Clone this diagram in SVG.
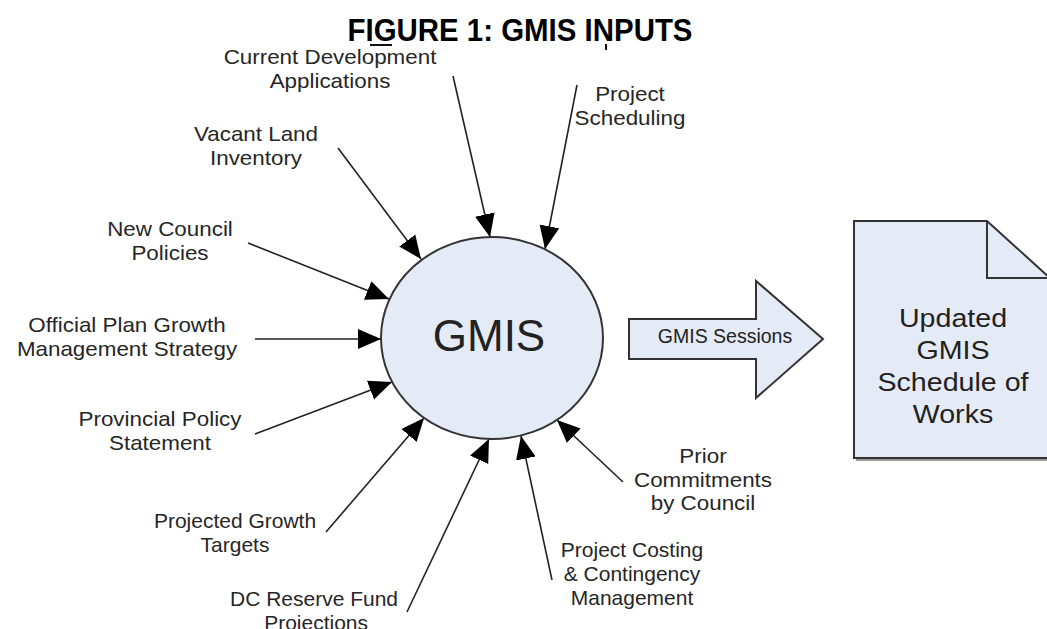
<svg xmlns="http://www.w3.org/2000/svg" width="1047" height="629" viewBox="0 0 1047 629">
  <defs>
    <marker id="head" markerUnits="userSpaceOnUse" markerWidth="24" markerHeight="22" viewBox="0 -11 24 22" refX="23" refY="0" orient="auto">
      <path d="M0,-10 L23,0 L0,10 Z" fill="#000"/>
    </marker>
    <style>
      .lbl text { font-family: "Liberation Sans", Arial, sans-serif; font-size: 20px; fill: #262626; text-anchor: middle; }
      .title { font-family: "Liberation Sans", Arial, sans-serif; font-size: 32px; font-weight: bold; fill: #000; text-anchor: middle; }
      .shape { fill: #e5ebf6; stroke: #333; stroke-width: 2; }
      .conn line { stroke: #222; stroke-width: 1.6; marker-end: url(#head); }
    </style>
  </defs>
  <rect width="1047" height="629" fill="#fff"/>

  <!-- heading -->
  <g id="title">
    <g transform="translate(520,0) scale(0.92,1)">
      <text class="title" x="0" y="41">FIGURE 1: GMIS INPUTS</text>
    </g>
    <line x1="370" y1="45" x2="392" y2="45" stroke="#111" stroke-width="2"/>
    <line x1="606" y1="44" x2="606" y2="50" stroke="#111" stroke-width="2"/>
  </g>

  <!-- input arrows into the hub -->
  <g id="connectors" class="conn">
    <line x1="453" y1="76" x2="490" y2="237"/>
    <line x1="577" y1="85" x2="545" y2="249"/>
    <line x1="338" y1="148" x2="421" y2="259"/>
    <line x1="248" y1="243" x2="389" y2="299"/>
    <line x1="255" y1="339" x2="381" y2="339"/>
    <line x1="255" y1="434" x2="392" y2="382"/>
    <line x1="326" y1="532" x2="424" y2="418"/>
    <line x1="407" y1="612" x2="489" y2="439"/>
    <line x1="552" y1="580" x2="521" y2="436"/>
    <line x1="623" y1="482" x2="557" y2="420"/>
  </g>

  <!-- hub -->
  <g id="gmis">
    <ellipse class="shape" cx="492" cy="338" rx="111" ry="101" stroke-width="1.8"/>
    <text x="489" y="351" font-family="Liberation Sans, Arial, sans-serif" font-size="44" fill="#222" text-anchor="middle">GMIS</text>
  </g>

  <!-- block arrow -->
  <g id="sessions">
    <polygon class="shape" points="629,319 756,319 756,281 823,339 756,398 756,359 629,359"/>
    <text x="725" y="343" font-family="Liberation Sans, Arial, sans-serif" font-size="19.5" fill="#222" text-anchor="middle">GMIS Sessions</text>
  </g>

  <!-- output document -->
  <g id="schedule">
    <path d="M856,224 H989 L1052,281 V461 H856 Z" fill="#999"/>
    <path class="shape" d="M854,221 H987 L1050,278 V458 H854 Z"/>
    <path d="M987,221 V278 H1050" fill="none" stroke="#333" stroke-width="2"/>
    <g transform="translate(953,0) scale(1.1,1)" font-family="Liberation Sans, Arial, sans-serif" font-size="26" fill="#222" text-anchor="middle">
      <text x="0" y="327">Updated</text>
      <text x="0" y="359">GMIS</text>
      <text x="0" y="391">Schedule of</text>
      <text x="0" y="423">Works</text>
    </g>
  </g>

  <!-- input labels (each centred on its translate x) -->
  <g id="in-applications" class="lbl" transform="translate(330,0) scale(1.12,1)">
    <text x="0" y="64">Current Development</text>
    <text x="0" y="88">Applications</text>
  </g>
  <g id="in-scheduling" class="lbl" transform="translate(630,0) scale(1.12,1)">
    <text x="0" y="101">Project</text>
    <text x="0" y="125">Scheduling</text>
  </g>
  <g id="in-vacant-land" class="lbl" transform="translate(256,0) scale(1.12,1)">
    <text x="0" y="141">Vacant Land</text>
    <text x="0" y="165">Inventory</text>
  </g>
  <g id="in-council-policies" class="lbl" transform="translate(170,0) scale(1.12,1)">
    <text x="0" y="236">New Council</text>
    <text x="0" y="260">Policies</text>
  </g>
  <g id="in-official-plan" class="lbl" transform="translate(127,0) scale(1.12,1)">
    <text x="0" y="332">Official Plan Growth</text>
    <text x="0" y="356">Management Strategy</text>
  </g>
  <g id="in-provincial" class="lbl" transform="translate(160,0) scale(1.12,1)">
    <text x="0" y="426">Provincial Policy</text>
    <text x="0" y="450">Statement</text>
  </g>
  <g id="in-growth-targets" class="lbl" transform="translate(235,0) scale(1.05,1)">
    <text x="0" y="528">Projected Growth</text>
    <text x="0" y="552">Targets</text>
  </g>
  <g id="in-dc-reserve" class="lbl" transform="translate(314,0) scale(1.05,1)">
    <text x="0" y="606">DC Reserve Fund</text>
    <text x="2" y="630">Projections</text>
  </g>
  <g id="in-costing" class="lbl" transform="translate(632,0) scale(1.05,1)">
    <text x="0" y="557">Project Costing</text>
    <text x="0" y="581">&amp; Contingency</text>
    <text x="0" y="605">Management</text>
  </g>
  <g id="in-commitments" class="lbl" transform="translate(703,0) scale(1.12,1)">
    <text x="0" y="463">Prior</text>
    <text x="0" y="487">Commitments</text>
    <text x="0" y="510">by Council</text>
  </g>
</svg>
